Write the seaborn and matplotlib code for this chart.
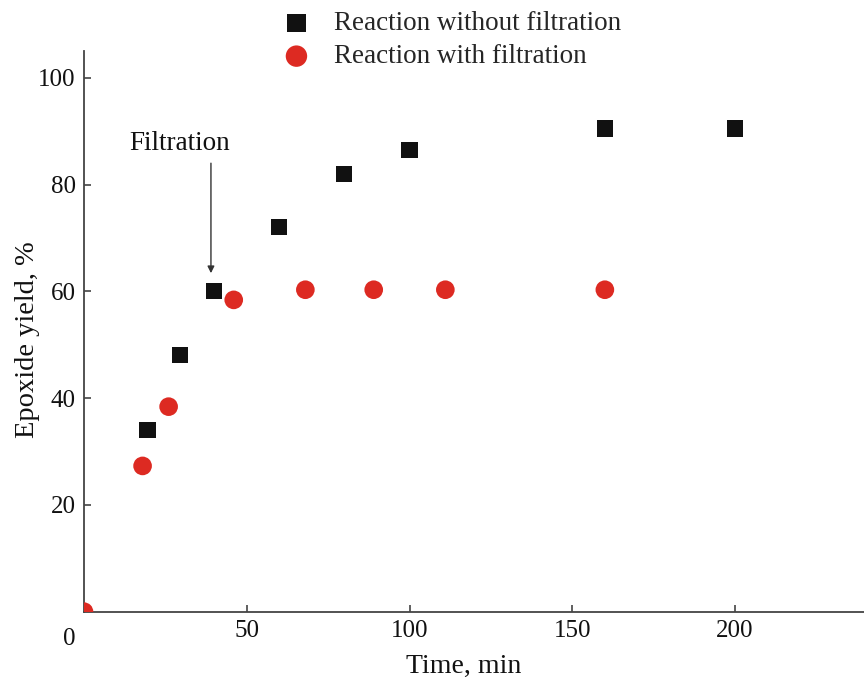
import matplotlib
matplotlib.use("Agg")
import matplotlib.pyplot as plt
import seaborn as sns
import pandas as pd

# Data
time_without = [19.5, 29.5, 40, 60, 80, 100, 160, 200]
yield_without = [34, 48, 60, 72, 82, 86.5, 90.5, 90.5]
time_with = [0, 18, 26, 46, 68, 89, 111, 160]
yield_with = [0, 27.3, 38.4, 58.4, 60.3, 60.3, 60.3, 60.3]
label_without = "Reaction without filtration"
label_with = "Reaction with filtration"
yticks = [20, 40, 60, 80, 100]
xticks = [50, 100, 150, 200]

df_without = pd.DataFrame({"t": time_without, "y": yield_without})
df_with = pd.DataFrame({"t": time_with, "y": yield_with})

sns.set_theme(style="ticks")
plt.rcParams['font.family'] = ['Liberation Serif', 'DejaVu Serif']

fig = plt.figure(figsize=(8.64, 6.81), dpi=100)
ax = fig.add_axes([0.0972, 0.1018, 0.9028, 0.8232])

sns.scatterplot(data=df_without, x="t", y="y", marker="s", s=135, color="#111111",
                edgecolor="none", label=label_without, ax=ax, zorder=3)
sns.scatterplot(data=df_with, x="t", y="y", marker="o", s=180, color="#dd2a22",
                edgecolor="none", label=label_with, ax=ax, zorder=3)

ax.set_xlim(0, 239.6)
ax.set_ylim(0, 105)
ax.set_xticks(xticks)
ax.set_yticks(yticks)
ax.tick_params(direction="in", length=5, width=1.2, colors="#444444",
               labelcolor="#111111", labelsize=18, pad=6)
for side in ["top", "right"]:
    ax.spines[side].set_visible(False)
for side in ["left", "bottom"]:
    ax.spines[side].set_linewidth(1.3)
    ax.spines[side].set_color("#444444")

ax.set_xlabel("Time, min", fontsize=20, color="#111111")
ax.set_ylabel("Epoxide yield, %", fontsize=20.5, color="#111111")
ax.xaxis.set_label_coords(0.487, -0.075)
ax.yaxis.set_label_coords(-0.0564, 0.486)

# origin label
ax.annotate("0", xy=(0, 0), xycoords="data", xytext=(-10.5, -19.5),
            textcoords="offset points", fontsize=18, color="#111111",
            ha="center", va="center", annotation_clip=False)

# filtration label and arrow
ax.text(29.5, 87.6, "Filtration", fontsize=19.5, color="#111111",
        ha="center", va="center")
ax.annotate("", xy=(39, 63.4), xytext=(39, 84),
            arrowprops=dict(arrowstyle="-|>", color="#333333", lw=1.0,
                            mutation_scale=10, shrinkA=0, shrinkB=0))

ax.get_legend().remove()
handles, labels = ax.get_legend_handles_labels()
fig.legend(handles, labels, loc="center left", bbox_to_anchor=(0.3196, 0.941),
           frameon=False, fontsize=19.5, handletextpad=0.65, labelspacing=0.3,
           borderaxespad=0, borderpad=0, handlelength=1.5, markerscale=1.15)

fig.savefig("out.png", dpi=100)
